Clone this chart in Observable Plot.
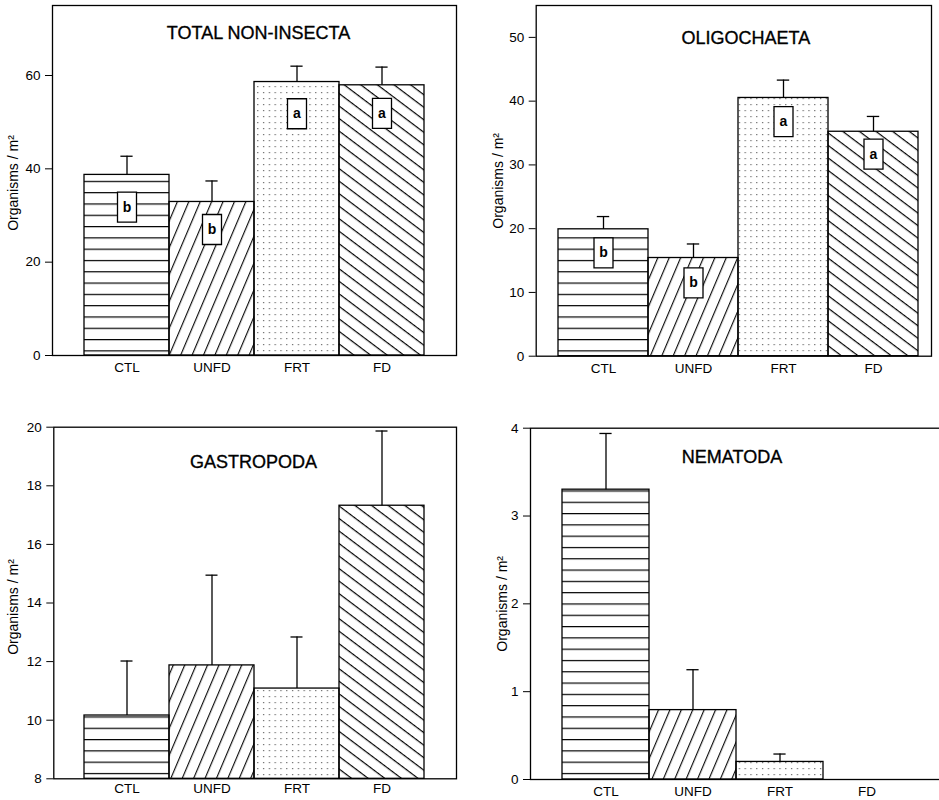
<!DOCTYPE html>
<html>
<head>
<meta charset="utf-8">
<script src="https://cdn.jsdelivr.net/npm/d3@7"></script>
<script src="https://cdn.jsdelivr.net/npm/@observablehq/plot@0.6"></script>
<style>
  body { margin: 0; background: #fff; }
  #wrap { position: relative; width: 939px; height: 800px; overflow: hidden; background: #fff; }
  #wrap g[aria-label="y-axis tick label"], #wrap g[aria-label="x-axis tick label"] { font-size: 13.5px; }
  #wrap g[aria-label="ylabel"] { font-size: 14px; }
  #wrap g[aria-label="letters"] { font-size: 14px; }
  #wrap g[aria-label="panel title"] { font-size: 18px; }
</style>
</head>
<body>
<svg id="defs" width="0" height="0" style="position:absolute;left:0;top:0">
  <defs>
    <pattern id="pHoriz" patternUnits="userSpaceOnUse" width="12" height="11.3">
      <line x1="0" x2="12" y1="0.6" y2="0.6" stroke="#000" stroke-width="1.2"/>
    </pattern>
    <pattern id="pFwd" patternUnits="userSpaceOnUse" width="10.5" height="10" patternTransform="rotate(23)">
      <line x1="0.6" x2="0.6" y1="0" y2="10" stroke="#000" stroke-width="1.1"/>
    </pattern>
    <pattern id="pDots" patternUnits="userSpaceOnUse" width="5.8" height="6">
      <rect x="2" y="2" width="1.2" height="1.2" fill="#666"/>
    </pattern>
    <pattern id="pBack" patternUnits="userSpaceOnUse" width="10" height="10" patternTransform="rotate(37)">
      <line x1="0" x2="10" y1="0.6" y2="0.6" stroke="#000" stroke-width="1.2"/>
    </pattern>
  </defs>
</svg>
<div id="wrap"></div>
<script>
// ---------- data ----------
const categories = ["CTL", "UNFD", "FRT", "FD"];
const patterns = ["url(#pHoriz)", "url(#pFwd)", "url(#pDots)", "url(#pBack)"];
const yLabel = "Organisms / m²";

const titleNonInsecta = "TOTAL NON-INSECTA";
const nonInsectaMean = [38.7, 32.9, 58.6, 57.9];
const nonInsectaSE = [4.0, 4.5, 3.4, 3.9];
const nonInsectaLetters = ["b", "b", "a", "a"];
const nonInsectaLetterY = [31.8, 27.0, 51.8, 51.9];
const nonInsectaTicks = [0, 20, 40, 60];

const titleOligo = "OLIGOCHAETA";
const oligoMean = [19.9, 15.4, 40.5, 35.2];
const oligoSE = [2.0, 2.2, 2.8, 2.4];
const oligoLetters = ["b", "b", "a", "a"];
const oligoLetterY = [16.2, 11.5, 36.8, 31.7];
const oligoTicks = [0, 10, 20, 30, 40, 50];

const titleGastro = "GASTROPODA";
const gastroMean = [10.16, 11.87, 11.08, 17.32];
const gastroSE = [1.86, 3.08, 1.76, 2.55];
const gastroTicks = [8, 10, 12, 14, 16, 18, 20];

const titleNema = "NEMATODA";
const nemaMean = [3.30, 0.79, 0.20, 0];
const nemaSE = [0.64, 0.46, 0.09, null];
const nemaTicks = [0, 1, 2, 3, 4];

// ---------- layout ----------
const panels = [
  {title: titleNonInsecta, mean: nonInsectaMean, se: nonInsectaSE, letters: nonInsectaLetters, letterY: nonInsectaLetterY, ticks: nonInsectaTicks,
   domain: [0, 75], left: 0, top: 0, width: 470, height: 400, m: [5, 14, 45, 52], po: 0.363, align: 0.5, capInset: 36.4, xPad: 7,
   tdx: 4, tdy: 28, ldx: -39, ldy: 2.5},
  {title: titleOligo, mean: oligoMean, se: oligoSE, letters: oligoLetters, letterY: oligoLetterY, ticks: oligoTicks,
   domain: [0, 55], left: 470, top: 0, width: 469, height: 400, m: [5, 8, 44.3, 65.7], po: 0.19, align: 0.63, capInset: 38.8, xPad: 7,
   tdx: 12, tdy: 33, ldx: -37.7, ldy: 0},
  {title: titleGastro, mean: gastroMean, se: gastroSE, letters: null, letterY: null, ticks: gastroTicks,
   domain: [8, 20], left: 0, top: 400, width: 470, height: 400, m: [26.7, 14, 21.7, 53.3], po: 0.352, align: 0.49, capInset: 36.5, xPad: 5,
   tdx: -1.7, tdy: 35, ldx: -40, ldy: 4},
  {title: titleNema, mean: nemaMean, se: nemaSE, letters: null, letterY: null, ticks: nemaTicks,
   domain: [0, 4], left: 470, top: 400, width: 473, height: 400, m: [27.7, 2, 21, 60], po: 0.35, align: 0.5, capInset: 37.4, xPad: 6.5,
   tdx: -4, tdy: 29, ldx: -28.3, ldy: 0}
];

const boxSymbol = {draw(ctx) { ctx.rect(-9.5, -15, 19, 30); }};
const FONT = "'Liberation Sans', Arial, Helvetica, sans-serif";
const wrap = document.getElementById("wrap");

for (const p of panels) {
  const base = p.domain[0];
  const rows = categories.map((c, i) => ({
    cat: c, v: p.mean[i], se: p.se[i],
    top: p.se[i] == null ? null : p.mean[i] + p.se[i],
    pat: patterns[i],
    letter: p.letters ? p.letters[i] : null,
    ly: p.letterY ? p.letterY[i] : null
  }));
  const barRows = rows.filter(d => d.v > base);
  const errRows = rows.filter(d => d.top != null);
  const letterRows = rows.filter(d => d.letter != null);

  const svg = Plot.plot({
    width: p.width, height: p.height,
    marginTop: p.m[0], marginRight: p.m[1], marginBottom: p.m[2], marginLeft: p.m[3],
    style: {fontFamily: FONT, fontSize: "13px", color: "#000", background: "transparent", overflow: "visible"},
    x: {domain: categories, paddingInner: 0, paddingOuter: p.po, align: p.align},
    y: {domain: p.domain},
    color: {type: "identity"},
    marks: [
      Plot.barY(barRows, {x: "cat", y1: base, y2: "v", fill: "pat", stroke: "#000", strokeWidth: 1.3}),
      Plot.ruleX(errRows, {x: "cat", y1: "v", y2: "top", stroke: "#000", strokeWidth: 1.3}),
      Plot.tickY(errRows, {x: "cat", y: "top", stroke: "#000", strokeWidth: 1.3, insetLeft: p.capInset, insetRight: p.capInset}),
      Plot.dot(letterRows, {x: "cat", y: "ly", symbol: boxSymbol, r: 5, fill: "#fff", stroke: "#000", strokeWidth: 1.3}),
      Plot.text(letterRows, {x: "cat", y: "ly", text: "letter", fontSize: 14, fontWeight: "bold", fill: "#000", ariaLabel: "letters"}),
      Plot.frame({stroke: "#000", strokeWidth: 1.3}),
      Plot.axisY({ticks: p.ticks, tickSize: 7, tickPadding: 5, label: null, fontSize: 13.5, tickFormat: d => String(d)}),
      Plot.axisX({tickSize: 0, tickPadding: p.xPad, label: null, fontSize: 13.5}),
      Plot.text([p.title], {text: d => d, frameAnchor: "top", dx: p.tdx, dy: p.tdy, fontSize: 18, lineAnchor: "middle",
                            fill: "#000", stroke: "#000", strokeWidth: 0.35, ariaLabel: "panel title"}),
      Plot.text([yLabel], {text: d => d, frameAnchor: "left", textAnchor: "middle", rotate: -90, dx: p.ldx, dy: p.ldy,
                           fontSize: 14, fill: "#000", ariaLabel: "ylabel"})
    ]
  });
  svg.style.position = "absolute";
  svg.style.left = p.left + "px";
  svg.style.top = p.top + "px";
  svg.style.maxWidth = "none";
  wrap.appendChild(svg);
}
</script>
</body>
</html>
